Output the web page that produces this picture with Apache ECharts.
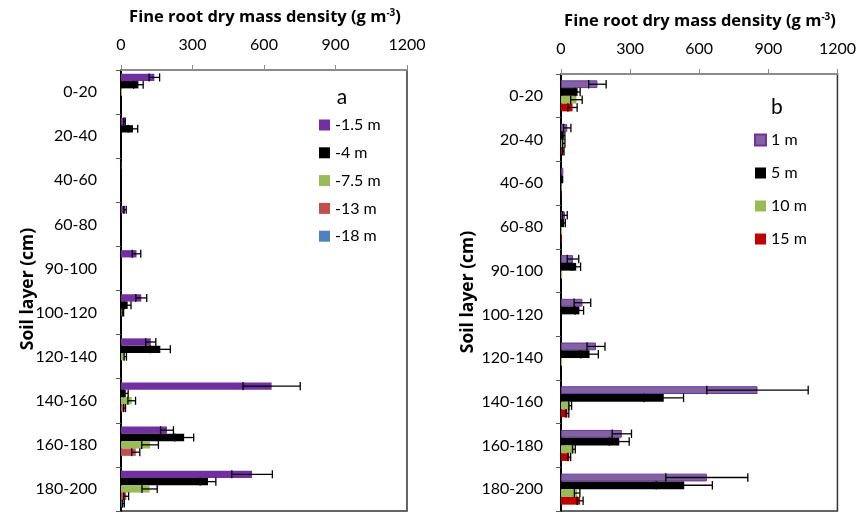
<!DOCTYPE html>
<html>
<head>
<meta charset="utf-8">
<script src="https://cdn.jsdelivr.net/npm/echarts@6/dist/echarts.min.js"></script>
<style>
  html, body { margin: 0; padding: 0; background: #fff; }
  #chart { width: 859px; height: 513px; }
</style>
</head>
<body>
<div id="chart"></div>
<script>
// Soil layers (shared by both panels)
const layers = ['0-20', '20-40', '40-60', '60-80', '90-100', '100-120', '120-140', '140-160', '160-180', '180-200'];
const xTicks = [0, 300, 600, 900, 1200];

// Panel a: distance series, means and standard errors (g m-3)
const namesA = ['-1.5 m', '-4 m', '-7.5 m', '-13 m', '-18 m'];
const a15 = [140, 15, 2, 17, 65, 85, 125, 632, 193, 550];
const a15Err = [22, 3, 0, 5, 18, 23, 21, 120, 27, 85];
const a4 = [73, 50, 0, 0, 0, 28, 165, 20, 265, 365];
const a4Err = [20, 20, 0, 0, 0, 14, 42, 10, 40, 33];
const a75 = [4, 0, 0, 0, 0, 8, 18, 45, 122, 120];
const a75Err = [0, 0, 0, 0, 0, 3, 5, 16, 35, 32];
const a13 = [0, 0, 0, 0, 0, 0, 0, 15, 62, 22];
const a13Err = [0, 0, 0, 0, 0, 0, 0, 4, 17, 10];
const a18 = [0, 0, 0, 0, 0, 0, 0, 0, 0, 10];
const a18Err = [0, 0, 0, 0, 0, 0, 0, 0, 0, 4];

// Panel b
const namesB = ['1 m', '5 m', '10 m', '15 m'];
const b1 = [158, 27, 10, 17, 52, 93, 152, 853, 264, 633];
const b1Err = [38, 16, 0, 10, 25, 36, 39, 220, 42, 178];
const b5 = [72, 12, 10, 14, 66, 80, 124, 446, 253, 535];
const b5Err = [11, 5, 0, 5, 19, 18, 38, 86, 43, 122];
const b10 = [67, 12, 3, 5, 5, 0, 5, 40, 56, 70];
const b10Err = [25, 5, 0, 0, 0, 0, 0, 6, 6, 12];
const b15 = [50, 10, 2, 3, 0, 0, 0, 28, 36, 83];
const b15Err = [20, 3, 0, 0, 0, 0, 0, 6, 6, 13];

const colorsA = ['#7030A0', '#000000', '#9BBB59', '#C0504D', '#4F81BD'];
const colorsB = ['#8064A2', '#000000', '#9BBB59', '#C00000'];

const valsA = [a15, a4, a75, a13, a18];
const errsA = [a15Err, a4Err, a75Err, a13Err, a18Err];
const valsB = [b1, b5, b10, b15];
const errsB = [b1Err, b5Err, b10Err, b15Err];

const FONT = 'Lato';
const BOLD_FONT = 'Open Sans';
const gapA = 0.17;
const gapB = 0.29;

function xAxisFor(gridIndex) {
  return {
    type: 'value', gridIndex: gridIndex, position: 'top',
    min: xTicks[0], max: xTicks[xTicks.length - 1], interval: 300,
    axisLine: { show: true, lineStyle: { color: '#8c8c8c', width: 2 } },
    axisTick: { show: true, length: 5, lineStyle: { color: '#8c8c8c', width: 1 } },
    axisLabel: { fontFamily: FONT, fontSize: 16, color: '#000', margin: 17, formatter: v => String(v) },
    splitLine: { show: false }
  };
}
function yAxisFor(gridIndex, margin) {
  return {
    type: 'category', gridIndex: gridIndex, data: layers, inverse: true,
    axisLine: { show: true, lineStyle: { color: '#000', width: 2 } },
    axisTick: { show: true, length: 5, lineStyle: { color: '#555', width: 1 } },
    axisLabel: { fontFamily: FONT, fontSize: 16, color: '#000', margin: margin },
    splitLine: { show: false }
  };
}

// Error bars centred on each bar of a grouped horizontal bar chart
function errorSeries(name, vals, errs, gridIndex, sIdx, nSeries, gap) {
  const data = vals.map((v, i) => [v, errs[i], i]);
  return {
    type: 'custom', name: name + ' err', xAxisIndex: gridIndex, yAxisIndex: gridIndex,
    data: data, encode: { x: 0, y: 2 }, z: 10, silent: true,
    renderItem: function (params, api) {
      const v = api.value(0), e = api.value(1), c = api.value(2);
      if (!e) return null;
      const band = api.size([0, 1])[1];
      const total = band * (1 - gap);
      const bw = total / nSeries;
      const center = api.coord([0, c])[1];
      const y = center - total / 2 + bw * (sIdx + 0.5);
      const x0 = api.coord([v - e, c])[0];
      const x1 = api.coord([v + e, c])[0];
      const h = bw * 0.55;
      const st = { stroke: '#000', lineWidth: 1.3 };
      return {
        type: 'group',
        children: [
          { type: 'line', shape: { x1: x0, y1: y, x2: x1, y2: y }, style: st },
          { type: 'line', shape: { x1: x0, y1: y - h, x2: x0, y2: y + h }, style: st },
          { type: 'line', shape: { x1: x1, y1: y - h, x2: x1, y2: y + h }, style: st }
        ]
      };
    }
  };
}

const series = [];
namesA.forEach((n, i) => {
  series.push({
    type: 'bar', name: n, xAxisIndex: 0, yAxisIndex: 0, data: valsA[i],
    barGap: '0%', barCategoryGap: (gapA * 100) + '%',
    itemStyle: { color: colorsA[i] }
  });
});
namesB.forEach((n, i) => {
  series.push({
    type: 'bar', name: n, xAxisIndex: 1, yAxisIndex: 1, data: valsB[i],
    barGap: '0%', barCategoryGap: (gapB * 100) + '%',
    itemStyle: i === 0 ? { color: colorsB[i], borderColor: '#7030A0', borderWidth: 1 } : { color: colorsB[i] }
  });
});
namesA.forEach((n, i) => series.push(errorSeries(n, valsA[i], errsA[i], 0, i, namesA.length, gapA)));
namesB.forEach((n, i) => series.push(errorSeries(n, valsB[i], errsB[i], 1, i, namesB.length, gapB)));

const titleRich = {
  t: { fontFamily: BOLD_FONT, fontSize: 16.5, fontWeight: 'bold', fill: '#000' },
  s: { fontFamily: BOLD_FONT, fontSize: 10, fontWeight: 'bold', fill: '#000', verticalAlign: 'top', padding: [0, 0, 8, 0] }
};

const option = {
  animation: false,
  backgroundColor: '#fff',
  grid: [
    { left: 121, top: 70, right: 452, bottom: 2, show: true, borderColor: '#333', borderWidth: 1.5, backgroundColor: 'transparent' },
    { left: 561, top: 74, right: 18, bottom: 2, show: true, borderColor: '#333', borderWidth: 1.5, backgroundColor: 'transparent' }
  ],
  xAxis: [xAxisFor(0), xAxisFor(1)],
  yAxis: [yAxisFor(0, 24), yAxisFor(1, 18)],
  legend: [
    {
      data: namesA, orient: 'vertical', left: 314, top: 112,
      itemWidth: 11, itemHeight: 11, itemGap: 11.8, icon: 'rect',
      textStyle: { fontFamily: FONT, fontSize: 16, color: '#000', lineHeight: 16 }
    },
    {
      data: namesB, orient: 'vertical', left: 749, top: 127,
      itemWidth: 11, itemHeight: 11, itemGap: 17, icon: 'rect',
      textStyle: { fontFamily: FONT, fontSize: 16, color: '#000', lineHeight: 16 }
    }
  ],
  graphic: [
    { type: 'text', x: 265, y: 17, style: { text: '{t|Fine root dry mass density (g m}{s|-3}{t|)}', rich: titleRich, align: 'center', verticalAlign: 'middle' } },
    { type: 'text', x: 700, y: 21, style: { text: '{t|Fine root dry mass density (g m}{s|-3}{t|)}', rich: titleRich, align: 'center', verticalAlign: 'middle' } },
    { type: 'text', x: 28, y: 289, rotation: Math.PI / 2, style: { text: 'Soil layer (cm)', fontFamily: BOLD_FONT, fontSize: 17.5, fontWeight: 'bold', fill: '#000', align: 'center', verticalAlign: 'middle' } },
    { type: 'text', x: 468, y: 292, rotation: Math.PI / 2, style: { text: 'Soil layer (cm)', fontFamily: BOLD_FONT, fontSize: 17.5, fontWeight: 'bold', fill: '#000', align: 'center', verticalAlign: 'middle' } },
    { type: 'text', x: 342, y: 97, style: { text: 'a', fontFamily: FONT, fontSize: 21, fill: '#000', align: 'center', verticalAlign: 'middle' } },
    { type: 'text', x: 777, y: 107, style: { text: 'b', fontFamily: FONT, fontSize: 21, fill: '#000', align: 'center', verticalAlign: 'middle' } }
  ],
  series: series
};

const chart = echarts.init(document.getElementById('chart'), null, { renderer: 'canvas' });
chart.setOption(option);
</script>
</body>
</html>
